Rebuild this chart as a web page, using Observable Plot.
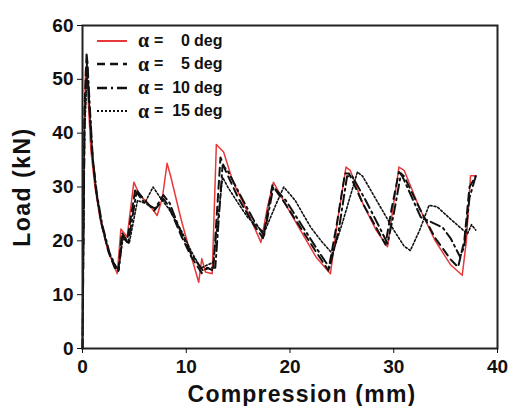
<!DOCTYPE html>
<html><head><meta charset="utf-8">
<script src="https://cdn.jsdelivr.net/npm/d3@7"></script>
<script src="https://cdn.jsdelivr.net/npm/@observablehq/plot@0.6"></script>
<style>
body{margin:0;background:#fff;}
#wrap{position:relative;width:510px;height:406px;font-family:"Liberation Sans",Arial,sans-serif;}
#legend{position:absolute;left:96px;top:29px;font-weight:bold;font-size:16px;color:#111;}
#legend .row{display:flex;align-items:center;height:23.5px;}
#legend svg{width:32px;height:10px;margin-right:10px;}
#legend .a{font-family:"Liberation Serif",serif;font-size:20px;font-weight:bold;width:16px;}
#legend .eq{width:14px;}
#legend .n{width:22px;text-align:right;margin-right:4px;}
svg [aria-label="x-axis label"] text{font-size:23px;letter-spacing:1.2px;}
svg [aria-label="y-axis label"] text{font-size:23px;letter-spacing:1.5px;}
</style></head><body><div id="wrap"></div>
<script>
// alpha = 0 deg
const x0=[0,0.15,0.3,0.5,0.8,1.2,1.7,2.4,3.0,3.35,3.7,4.3,4.95,5.5,6.3,7.2,7.7,8.15,8.5,9.5,10.5,11.2,11.5,11.85,12.5,12.9,13.6,14.5,16.0,17.2,17.8,18.4,19.5,21.0,22.5,23.9,24.6,25.4,25.8,27.0,28.3,29.4,30.0,30.5,31.0,32.5,34.0,35.5,36.6,37.0,37.4,37.9];
const y0=[0,40,52,48,37,30,24,18.5,15.5,13.9,22.2,20.7,30.9,28.5,27,24.7,28,34.4,32,24,17,12.3,16.7,14.2,13.9,37.9,36.5,31,25,19.7,26,30.9,27,22,17,13.9,24,33.7,33.1,27,22,18.9,27,33.7,33.1,26,20,15.5,13.6,20,32.1,32.1];
// alpha = 5 deg
const x5=[0,0.2,0.4,0.6,0.9,1.3,1.8,2.5,3.1,3.45,3.8,4.3,5.1,6.0,6.9,7.8,8.3,9.5,10.5,11.5,12.0,12.6,13.3,13.8,15.0,16.5,17.4,18.3,19.5,21.0,22.5,23.7,24.5,25.3,25.7,27.0,28.3,29.2,29.8,30.5,31.0,32.5,34.0,35.5,36.2,36.8,37.3,37.9];
const y5=[0,45,55,47,37,29.5,23.5,18,15,14.3,21.5,20,29.7,27.5,25.6,27.8,26.5,21,17,14.0,15,14.5,35.5,33,28,23,20.5,30.3,27,22.5,18,14.5,23,32.5,32.5,27,22.5,19.3,26,32.8,32,26,20.5,16.5,15.1,20,30,32];
// alpha = 10 deg
const x10=[0,0.2,0.45,0.7,1.0,1.4,1.9,2.6,3.2,3.5,3.85,4.4,5.2,6.0,7.0,7.8,8.4,9.5,10.5,11.6,12.2,12.8,13.5,14.0,15.2,16.6,17.5,18.4,19.6,21.1,22.6,23.8,24.7,25.5,26.0,27.3,28.5,29.4,30.0,30.7,31.3,32.6,34.7,35.5,36.4,36.8,37.3,37.9];
const y10=[0,42,54,45,35,28.5,23,17.8,15.2,14.6,21,19.5,29,27,26,28.5,27,21.5,17.5,14.5,15,15,34,33,28.5,23.5,21,30,27.5,23,18.5,15,22,32,32,27.5,23,19.5,25,32.5,30,24.4,22.5,20.4,17,19,28,32];
// alpha = 15 deg
const x15=[0,0.2,0.45,0.7,1.0,1.4,1.9,2.6,3.2,3.5,3.9,4.5,5.3,6.0,6.8,7.5,8.3,9.5,10.5,11.4,12.0,12.6,13.5,14.0,15.0,15.9,17.5,18.7,19.4,20.5,22.0,23.0,24.1,25.0,26.5,27.0,28.5,30.0,31.0,31.6,32.5,33.4,34.2,35.5,37.1,37.5,37.9];
const y15=[0,40,52,44,35,28,22.5,17.5,15.3,15,20.5,19.5,27.5,27,30,28,26,22,18,14.9,15.5,16,31.8,30,27,24.4,21.5,27,30,27.5,22.5,20,17.6,23,32.8,32,27,22,19,18.2,22,26.6,26.3,24,21.3,23,22];

const names=["0","5","10","15"];
const xTicks=[0,10,20,30,40];
const yTicks=[0,10,20,30,40,50,60];

const series=[
  {name:"0",x:x0,y:y0,stroke:"#e8393a",w:1.5,dash:null},
  {name:"5",x:x5,y:y5,stroke:"#111",w:2,dash:"8,5"},
  {name:"10",x:x10,y:y10,stroke:"#111",w:2,dash:"10,4,2,4"},
  {name:"15",x:x15,y:y15,stroke:"#111",w:1.6,dash:"2,2"}
];
const rows=series.map(s=>s.x.map((x,i)=>({x,y:s.y[i]})));

const plot=Plot.plot({
  width:510,height:406,marginLeft:82,marginRight:13,marginTop:25,marginBottom:58,
  style:{fontFamily:"Liberation Sans",fontSize:"19px",fontWeight:"bold",color:"#111",background:"white"},
  x:{domain:[0,40]},
  y:{domain:[0,60]},
  marks:[
    ...series.map((s,i)=>Plot.line(rows[i],{x:"x",y:"y",stroke:s.stroke,strokeWidth:s.w,strokeDasharray:s.dash})),
    Plot.frame({stroke:"#222",strokeWidth:2}),
    Plot.axisX({ticks:xTicks,tickSize:5,tickPadding:6,label:"Compression (mm)",labelAnchor:"center",labelArrow:"none",labelOffset:53}),
    Plot.axisY({ticks:yTicks,tickSize:5,tickPadding:4,label:"Load (kN)",labelAnchor:"center",labelArrow:"none",labelOffset:69})
  ]
});
const wrap=document.getElementById("wrap");
wrap.appendChild(plot);
const xl=plot.querySelector('[aria-label="x-axis label"] text');
if(xl) xl.setAttribute("dx","12");

const leg=document.createElement("div");leg.id="legend";
series.forEach(s=>{
  const r=document.createElement("div");r.className="row";
  r.innerHTML=`<svg><line x1="1" x2="31" y1="5" y2="5" stroke="${s.stroke}" stroke-width="${s.w+0.5}" ${s.dash?`stroke-dasharray="${s.dash}"`:""}/></svg><span class="a">α</span><span class="eq">=</span><span class="n">${s.name}</span><span>deg</span>`;
  leg.appendChild(r);
});
wrap.appendChild(leg);
</script></body></html>
